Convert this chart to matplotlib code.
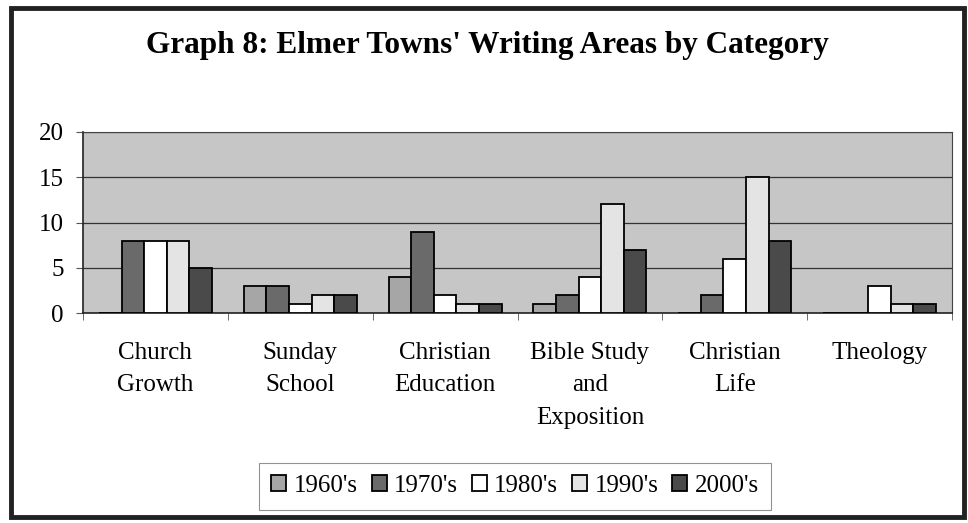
import numpy as np
import matplotlib.pyplot as plt
from matplotlib.patches import Rectangle

categories = ['Church\nGrowth', 'Sunday\nSchool', 'Christian\nEducation',
              'Bible Study\nand\nExposition', 'Christian\nLife', 'Theology']
decades = ["1960's", "1970's", "1980's", "1990's", "2000's"]
v1960 = [0, 3, 4, 1, 0, 0]
v1970 = [8, 3, 9, 2, 2, 0]
v1980 = [8, 1, 2, 4, 6, 3]
v1990 = [8, 2, 1, 12, 15, 1]
v2000 = [5, 2, 1, 7, 8, 1]
series = [v1960, v1970, v1980, v1990, v2000]
colors = ['#a6a6a6', '#6a6a6a', '#ffffff', '#e4e4e4', '#4a4a4a']

plt.rcParams['font.family'] = ['Liberation Serif', 'DejaVu Serif']

W, H = 968, 523
fig = plt.figure(figsize=(W / 100, H / 100), dpi=100)
fig.patch.set_facecolor('white')

# outer frame
fig.add_artist(Rectangle((11 / W, 1 - 517 / H), (964 - 11) / W, (517 - 8) / H,
                         transform=fig.transFigure, fill=False,
                         edgecolor='#222222', linewidth=3.5))

ax = fig.add_axes([83 / W, 1 - 313 / H, (952 - 83) / W, (313 - 132) / H])
ax.set_facecolor('#c6c6c6')

x = np.arange(len(categories)) + 0.5
bw = 0.156
for j, vals in enumerate(series):
    ax.bar(x + (j - 2) * bw, vals, bw, color=colors[j], edgecolor='black',
           linewidth=1.3, label=decades[j], zorder=3)

ax.set_xlim(0, 6)
ax.set_ylim(0, 20)
ax.set_yticks([0, 5, 10, 15, 20])
ax.yaxis.grid(True, color='#333333', linewidth=0.9, zorder=1)
ax.tick_params(axis='y', labelsize=18, length=5, pad=9, color='#555555')

ax.set_xticks(x)
ax.set_xticklabels(categories, fontsize=18, linespacing=1.6, va='top')
ax.set_xticks(np.arange(0, 7), minor=True)
ax.tick_params(axis='x', which='major', length=0, pad=21)
ax.tick_params(axis='x', which='minor', length=5, color='#555555')

for s in ['top', 'right']:
    ax.spines[s].set_color('#444444')
    ax.spines[s].set_linewidth(0.8)
for s in ['left', 'bottom']:
    ax.spines[s].set_color('#222222')
    ax.spines[s].set_linewidth(1.2)

fig.text(487 / W, 1 - 46 / H, "Graph 8: Elmer Towns' Writing Areas by Category",
         ha='center', va='center', fontsize=22.5, fontweight='bold')

leg = fig.legend(loc='center', bbox_to_anchor=(515 / W, 1 - 486 / H), ncol=5,
                 fontsize=18, frameon=True, fancybox=False, handlelength=0.6,
                 handleheight=0.6, handletextpad=0.3, columnspacing=0.55,
                 borderpad=0.5)
leg.get_frame().set_edgecolor('#777777')
leg.get_frame().set_linewidth(0.8)

fig.savefig('out.png', dpi=100)
